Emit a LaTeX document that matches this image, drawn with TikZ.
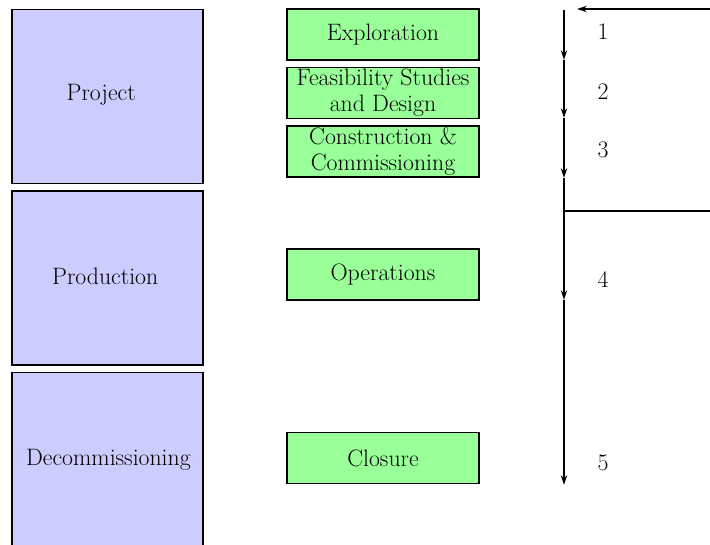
\documentclass[tikz,border=0pt]{standalone}
\usepackage{fontspec}
\usetikzlibrary{arrows.meta}
\definecolor{stage-bg}{HTML}{CCCCFF}
\definecolor{phase-bg}{HTML}{99FF99}

\begin{document}
\begin{tikzpicture}[every node/.style={font=\fontsize{16.9}{18.5}\selectfont},
    stagebox/.style={draw, line width=1.2pt, fill=stage-bg, minimum width=4.78cm, minimum height=4.35cm},
    phasebox/.style={draw, line width=1.2pt, fill=phase-bg, minimum width=4.8cm, minimum height=1.28cm,
      inner sep=0pt, align=center},
    flow/.style={line width=0.9pt, -{Stealth[length=7pt,width=4.5pt]}}]
    \useasboundingbox (0,0) rectangle (17.75,-13.625);
    % life-cycle stages on the left
    \foreach \n/\y in {proj/-2.41, prod/-6.95, decom/-11.49} {
      \node[stagebox] (\n) at (2.69, \y) {};
    }
    \node at (2.53, -2.37) {Project};
    \node at (2.63, -6.92) {Production};
    \node at (2.71, -11.49) {Decommissioning};
    % phases in the middle
    \node[phasebox] (expl) at (9.575, -0.8625) {Exploration};
    \node[phasebox] (feas) at (9.575, -2.325) {Feasibility Studies\\and Design};
    \node[phasebox] (cons) at (9.575, -3.7875) {Construction \&\\Commissioning};
    \node[phasebox] (oper) at (9.575, -6.8625) {Operations};
    \node[phasebox] (clos) at (9.575, -11.45) {Closure};
    % time line on the right
    \foreach \i/\y in {0/-0.25,1/-1.5,2/-2.95,3/-4.45,4/-7.5,5/-12.125} {
      \coordinate (p\i) at (14.1, \y);
    }
    \foreach \i/\y in {1/-0.8,2/-2.3,3/-3.75,4/-7.0,5/-11.58} {
      \node (n\i) at (15.075, \y) {\i};
    }
    \draw[flow] (p0) -- (p1);
    \draw[flow] (p1) -- (p2);
    \draw[flow] (p2) -- (p3);
    \draw[flow] (p3) -- (p4);
    \draw[flow] (p4) -- (p5);
    \coordinate (split) at (14.1, -5.275);
    \coordinate (splitend) at (17.75, -5.275);
    \draw[line width=0.9pt] (split) -- (splitend);
    \coordinate (back) at (17.75, -0.225);
    \coordinate (backend) at (14.425, -0.225);
    \draw[flow] (back) -- (backend);
  \end{tikzpicture}
\end{document}
